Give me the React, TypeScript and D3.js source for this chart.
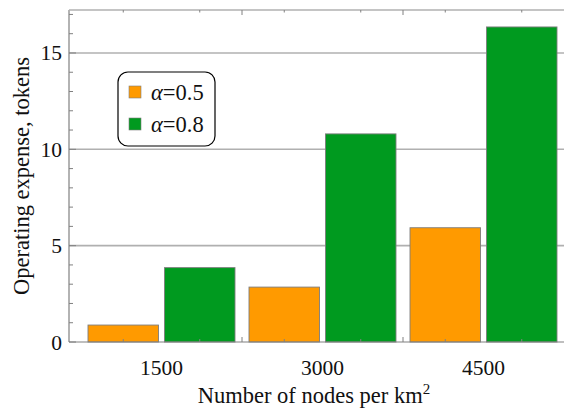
import React from "react";
import * as d3 from "d3";

const categories = ["1500", "3000", "4500"];
const seriesNames = ["α=0.5", "α=0.8"];
const alpha05 = [0.88, 2.85, 5.93];
const alpha08 = [3.86, 10.8, 16.35];
const yTicks = [0, 5, 10, 15];
const colors = ["#FF9A00", "#009A1F"];

const W = 564;
const H = 409;
const left = 69;
const top = 10;
const bottom = 342;
const right = 572;

export default function App() {
  const y = d3.scaleLinear().domain([0, 17.23]).range([bottom, top]);
  const x = d3
    .scaleBand<string>()
    .domain(categories)
    .range([81, 564])
    .paddingInner(14 / 161)
    .paddingOuter(7 / 161);
  const xs = d3
    .scaleBand<string>()
    .domain(seriesNames)
    .range([0, x.bandwidth()])
    .paddingInner(6 / 76.5)
    .paddingOuter(0);
  const values = [alpha05, alpha08];
  const minor = d3.range(0, 18, 1);
  const font = "'Liberation Serif', 'Times New Roman', serif";
  const axisColor = "#808080";
  const gridColor = "#b0b0b0";
  const fs = 21.5;

  const barCenters: number[] = [];
  categories.forEach((c) => {
    seriesNames.forEach((s) => {
      barCenters.push((x(c) as number) + (xs(s) as number) + xs.bandwidth() / 2);
    });
  });
  const separators = categories.slice(1).map((c) => (x(c) as number) - (x.step() - x.bandwidth()) / 2);

  return (
    <svg width={W} height={H} style={{ position: "absolute", left: 0, top: 0 }} fontFamily={font}>
      <rect x={0} y={0} width={W} height={H} fill="#fff" />
      {yTicks.filter((t) => t > 0).map((t) => (
        <line key={t} x1={left} x2={right} y1={y(t)} y2={y(t)} stroke={gridColor} strokeWidth={1.6} />
      ))}
      {categories.map((c, i) =>
        seriesNames.map((s, j) => (
          <rect
            key={c + s}
            x={(x(c) as number) + (xs(s) as number)}
            y={y(values[j][i])}
            width={xs.bandwidth()}
            height={y(0) - y(values[j][i])}
            fill={colors[j]}
            stroke="#7d7d7d"
            strokeWidth={0.9}
          />
        ))
      )}
      <line x1={left} x2={left} y1={top} y2={bottom} stroke={axisColor} strokeWidth={1.2} />
      <line x1={left} x2={right} y1={bottom} y2={bottom} stroke={axisColor} strokeWidth={1.2} />
      <line x1={left} x2={right} y1={top} y2={top} stroke={gridColor} strokeWidth={1.6} />
      {minor.map((t) => (
        <line
          key={"m" + t}
          x1={left}
          x2={left + (t % 5 === 0 ? 7 : 4)}
          y1={y(t)}
          y2={y(t)}
          stroke={axisColor}
          strokeWidth={1}
        />
      ))}
      {barCenters.map((cx, i) => (
        <g key={"bc" + i}>
          <line x1={cx} x2={cx} y1={bottom} y2={bottom - 3} stroke={axisColor} strokeWidth={1} />
          <line x1={cx} x2={cx} y1={top} y2={top + 2.5} stroke={axisColor} strokeWidth={1} />
        </g>
      ))}
      {separators.map((sx, i) => (
        <g key={"sp" + i}>
          <line x1={sx} x2={sx} y1={bottom} y2={bottom - 5} stroke={axisColor} strokeWidth={1} />
          <line x1={sx} x2={sx} y1={top} y2={top + 5} stroke={axisColor} strokeWidth={1} />
        </g>
      ))}
      {yTicks.map((t) => (
        <text key={"yl" + t} x={62} y={y(t)} dy="0.35em" textAnchor="end" fontSize={fs} fill="#111">
          {t}
        </text>
      ))}
      {categories.map((c) => (
        <text key={"xl" + c} x={(x(c) as number) + x.bandwidth() / 2} y={375} textAnchor="middle" fontSize={fs} fill="#111">
          {c}
        </text>
      ))}
      <text transform="translate(29,176) rotate(-90)" textAnchor="middle" fontSize={22.5} fill="#111">
        Operating expense, tokens
      </text>
      <text x={314} y={403} textAnchor="middle" fontSize={22.5} fill="#111">
        Number of nodes per km
        <tspan fontSize={15} dy={-9}>2</tspan>
      </text>
      <rect x={118} y={72} width={97} height={74} rx={10} ry={10} fill="#fff" stroke="#000" strokeWidth={1.2} />
      {seriesNames.map((s, j) => (
        <g key={"lg" + s}>
          <rect x={129} y={86 + j * 32} width={12} height={12} fill={colors[j]} stroke="#7d7d7d" strokeWidth={0.6} />
          <text x={151} y={100 + j * 32} fontSize={22.5} fill="#111">
            <tspan fontStyle="italic">α</tspan>
            {s.slice(1)}
          </text>
        </g>
      ))}
    </svg>
  );
}
